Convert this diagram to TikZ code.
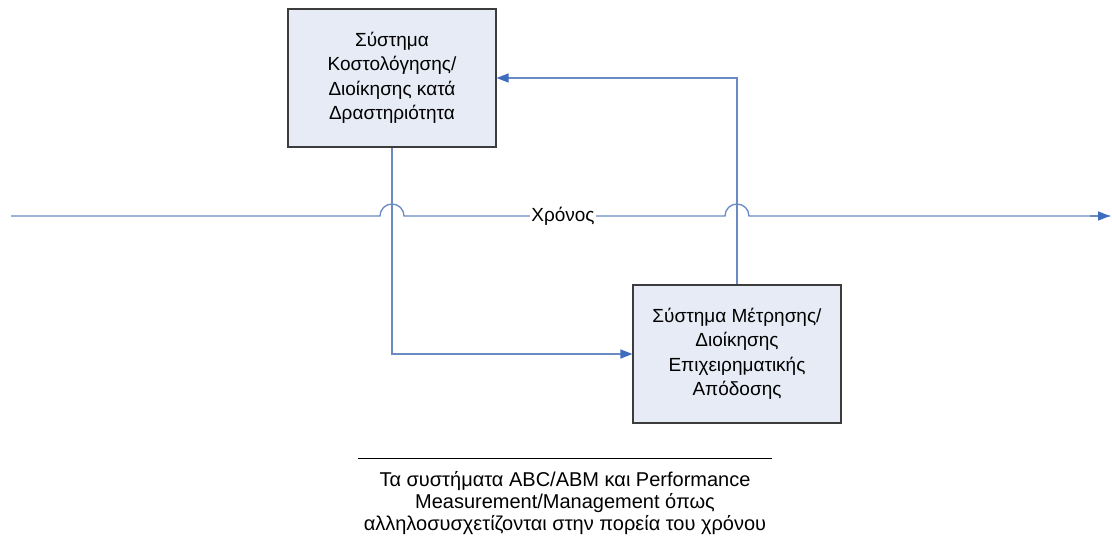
\documentclass[tikz,border=0pt]{standalone}
\usepackage{fontspec}
\setmainfont{Liberation Sans}
\usetikzlibrary{arrows.meta,shadows}
\definecolor{flow}{HTML}{6A8AC4}
\definecolor{tip}{HTML}{3F6CBC}
\definecolor{boxfill}{HTML}{E6EBF5}
\definecolor{boxedge}{HTML}{3C3C3C}
\tikzset{
  sysbox/.style={draw=boxedge, line width=1.1pt, fill=boxfill,
    minimum width=208pt, minimum height=138pt, inner sep=0pt,
    align=center, font=\fontsize{19}{24.5}\selectfont,
    drop shadow={shadow xshift=1.4pt, shadow yshift=-1.4pt, fill=black!75, opacity=1}},
  link/.style={draw=flow, line width=1.3pt},
  linkarrow/.style={link, -{Triangle[length=12pt,width=9pt,fill=tip,color=tip]}},
  timelabel/.style={fill=white, inner xsep=1pt, inner ysep=3pt, font=\fontsize{19}{22}\selectfont},
  caption/.style={align=center, font=\fontsize{20}{22}\selectfont}
}
\begin{document}
\begin{tikzpicture}[x=1pt,y=-1pt]
  \useasboundingbox (0,0) rectangle (1112,537);

  % the two systems
  \node[sysbox] (abc) at (392,78) {Σύστημα\\Κοστολόγησης/\\Διοίκησης κατά\\Δραστηριότητα};
  \node[sysbox] (pm) at (737,354) {Σύστημα Μέτρησης/\\Διοίκησης\\Επιχειρηματικής\\Απόδοσης};

  % time axis, hopping over the two vertical links
  \coordinate (tstart) at (11,216);
  \coordinate (tend) at (1110,216);
  \draw[link] (tstart) -- (380,216) arc[start angle=180, end angle=360, radius=12]
     -- (725,216) arc[start angle=180, end angle=360, radius=12] -- (tend);
  \draw[linkarrow] (1090,216) -- (tend);
  \node[timelabel] (time) at (563,216) {Χρόνος};

  % links between the systems
  \coordinate (bend1) at (392,354);
  \draw[linkarrow] (abc.south) -- (bend1) -- (pm.west);
  \coordinate (bend2) at (737,78);
  \draw[linkarrow] (pm.north) -- (bend2) -- (abc.east);

  % caption
  \coordinate (capl) at (358,458);
  \coordinate (capr) at (772,458);
  \draw[black, line width=1pt] (capl) -- (capr);
  \node[caption, anchor=north] (cap) at (565,468)
    {Τα συστήματα ABC/ABM και Performance\\Measurement/Management όπως\\αλληλοσυσχετίζονται στην πορεία του χρόνου};
\end{tikzpicture}
\end{document}
